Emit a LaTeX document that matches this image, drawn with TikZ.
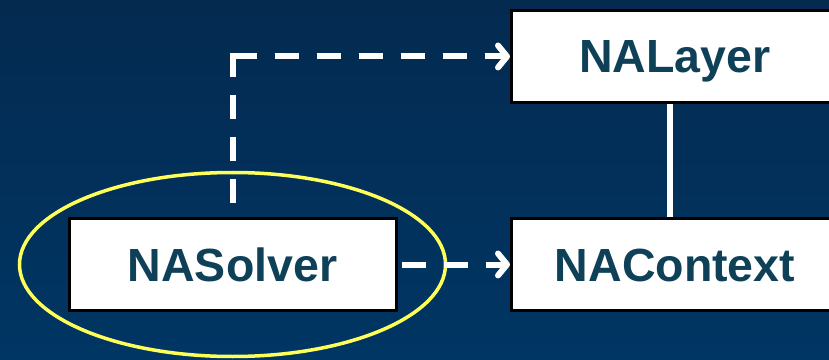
\documentclass[tikz,border=0pt]{standalone}
\usepackage{fontspec}
\setmainfont{Liberation Sans}
\usetikzlibrary{arrows.meta,shapes.geometric}
\definecolor{bgtop}{RGB}{4,42,80}
\definecolor{bgbot}{RGB}{0,54,100}
\definecolor{txt}{RGB}{14,64,88}
\definecolor{hilite}{RGB}{255,255,90}
\tikzset{
  box/.style={draw=black, line width=3pt, fill=white, minimum width=327pt, minimum height=92pt,
    inner sep=0pt, text height=33pt, text depth=0pt,
    font=\fontsize{46.5}{50}\selectfont\bfseries, text=txt},
  dashline/.style={draw=white, line width=6pt, dash pattern=on 24pt off 18pt},
  tiparrow/.style={-{Straight Barb[length=9pt,width=22pt,round]}}
}
\begin{document}
\begin{tikzpicture}[x=1pt,y=1pt]
\shade[top color=bgtop, bottom color=bgbot] (0,0) rectangle (829,359);
\useasboundingbox (0,0) rectangle (829,359);
\clip (0,0) rectangle (829,359);
\node[box] (solver) at (232.5,94.5) {NASolver};
\node[box] (context) at (675,94.5) {NAContext};
\node[box] (layer) at (675,302.5) {NALayer};
\node[draw=hilite, line width=3.5pt, ellipse, minimum width=426pt, minimum height=184pt] (hl) at (232.5,94.5) {};
\coordinate (corner) at (solver.north |- layer.west);
\draw[dashline] ([yshift=3pt]corner) -- (solver.north);
\draw[dashline, tiparrow] (corner) -- (layer.west);
\draw[dashline, dash phase=38pt, tiparrow] (solver.east) -- (context.west);
\draw[white, line width=5.5pt] ([xshift=-5pt]layer.south) -- ([xshift=-5pt]context.north);
\end{tikzpicture}
\end{document}
